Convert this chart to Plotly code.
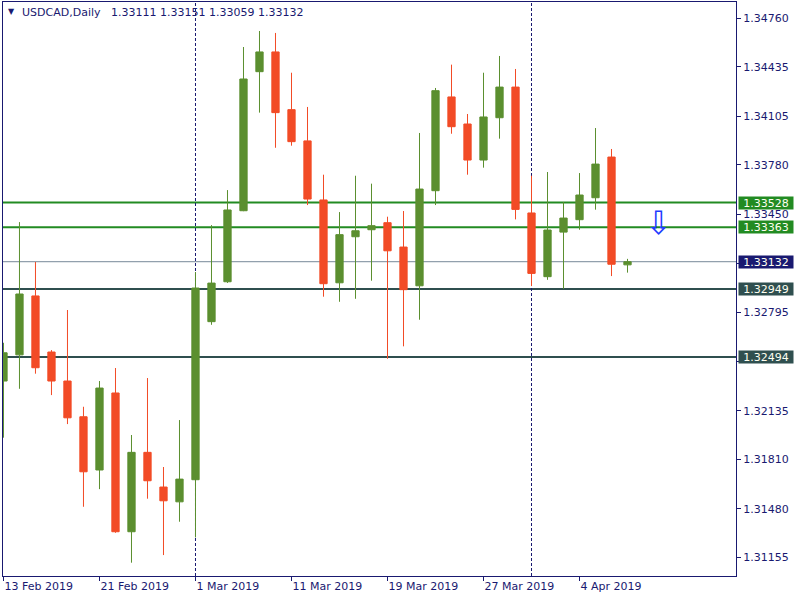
import plotly.graph_objects as go

# ---------------- data ----------------
dates = [
    "2019-02-13", "2019-02-14", "2019-02-15", "2019-02-18", "2019-02-19",
    "2019-02-20", "2019-02-21", "2019-02-22", "2019-02-25", "2019-02-26",
    "2019-02-27", "2019-02-28", "2019-03-01", "2019-03-04", "2019-03-05",
    "2019-03-06", "2019-03-07", "2019-03-08", "2019-03-11", "2019-03-12",
    "2019-03-13", "2019-03-14", "2019-03-15", "2019-03-18", "2019-03-19",
    "2019-03-20", "2019-03-21", "2019-03-22", "2019-03-25", "2019-03-26",
    "2019-03-27", "2019-03-28", "2019-03-29", "2019-04-01", "2019-04-02",
    "2019-04-03", "2019-04-04", "2019-04-05", "2019-04-08", "2019-04-09",
]
opens = [
    1.32334, 1.32509, 1.32903, 1.32528, 1.32334, 1.32095, 1.31739, 1.32254,
    1.31326, 1.31857, 1.31625, 1.31526, 1.31674, 1.32731, 1.32998, 1.33473,
    1.34403, 1.34535, 1.34149, 1.33940, 1.33545, 1.32991, 1.33299, 1.33346,
    1.33393, 1.33230, 1.32971, 1.33607, 1.34234, 1.34053, 1.33812, 1.34095,
    1.34300, 1.33458, 1.33032, 1.33330, 1.33413, 1.33560, 1.33832, 1.33111,
]
highs = [
    1.32590, 1.33397, 1.33130, 1.32541, 1.32809, 1.32162, 1.32334, 1.32421,
    1.31973, 1.32354, 1.31759, 1.32073, 1.33063, 1.33377, 1.33611, 1.34568,
    1.34675, 1.34662, 1.34396, 1.34167, 1.33714, 1.33464, 1.33707, 1.33654,
    1.33433, 1.33471, 1.33993, 1.34294, 1.34450, 1.34120, 1.34396, 1.34508,
    1.34421, 1.33707, 1.33732, 1.33531, 1.33725, 1.34026, 1.33886, 1.33151,
]
lows = [
    1.31955, 1.32282, 1.32383, 1.32240, 1.32046, 1.31493, 1.31611, 1.31319,
    1.31119, 1.31547, 1.31170, 1.31393, 1.31288, 1.32710, 1.32990, 1.33470,
    1.34129, 1.33894, 1.33908, 1.33511, 1.32898, 1.32864, 1.32884, 1.33005,
    1.32483, 1.32566, 1.32744, 1.33511, 1.33988, 1.33714, 1.33761, 1.33955,
    1.33415, 1.32969, 1.33011, 1.32951, 1.33346, 1.33480, 1.33036, 1.33059,
]
closes = [
    1.32523, 1.32916, 1.32423, 1.32334, 1.32088, 1.31727, 1.32287, 1.31326,
    1.31857, 1.31667, 1.31533, 1.31678, 1.32956, 1.32989, 1.33478, 1.34354,
    1.34535, 1.34129, 1.33935, 1.33551, 1.32985, 1.33313, 1.33339, 1.33373,
    1.33205, 1.32945, 1.33618, 1.34276, 1.34035, 1.33812, 1.34100, 1.34300,
    1.33482, 1.33054, 1.33344, 1.33424, 1.33578, 1.33785, 1.33115, 1.33132,
]

tick_dates = ["2019-02-13", "2019-02-21", "2019-03-01", "2019-03-11",
              "2019-03-19", "2019-03-27", "2019-04-04"]
tick_labels = ["13 Feb 2019", "21 Feb 2019", "1 Mar 2019", "11 Mar 2019",
               "19 Mar 2019", "27 Mar 2019", "4 Apr 2019"]
price_ticks = [1.34760, 1.34435, 1.34105, 1.33780, 1.33450, 1.33120,
               1.32795, 1.32465, 1.32135, 1.31810, 1.31480, 1.31155]
hidden_ticks = [1.33120, 1.32465]   # covered by level labels in the original

level_prices = [1.33528, 1.33363, 1.33132, 1.32949, 1.32494]
level_colors = ["#228B22", "#228B22", "#778899", "#2F4F4F", "#2F4F4F"]
level_label_bg = ["#228B22", "#228B22", "#191970", "#2F4F4F", "#2F4F4F"]
level_widths = [2, 2, 1, 2, 2]

separator_dates = ["2019-03-01", "2019-04-01"]
signal_pos = 40.95
signal_price = 1.33391

title_text = "USDCAD,Daily\u00a0\u00a0\u00a01.33111 1.33151 1.33059 1.33132"

NAVY = "#191970"
BULL = "#5B8F2F"
BEAR = "#F24B26"
FONT = "DejaVu Sans"

x_idx = list(range(len(dates)))

fig = go.Figure()
fig.add_trace(go.Candlestick(
    x=x_idx, open=opens, high=highs, low=lows, close=closes,
    increasing=dict(line=dict(color=BULL, width=1), fillcolor=BULL),
    decreasing=dict(line=dict(color=BEAR, width=1), fillcolor=BEAR),
    whiskerwidth=0, hoverinfo="skip", showlegend=False,
))

shapes = []
for p, c, w in zip(level_prices, level_colors, level_widths):
    shapes.append(dict(type="line", xref="paper", x0=0, x1=1, yref="y", y0=p, y1=p,
                       line=dict(color=c, width=w), layer="below"))
for d in separator_dates:
    xi = dates.index(d)
    shapes.append(dict(type="line", xref="x", x0=xi, x1=xi, yref="paper", y0=0, y1=1,
                       line=dict(color=NAVY, width=1, dash="3px,2px"), layer="below"))

annotations = []
for p, bg in zip(level_prices, level_label_bg):
    annotations.append(dict(
        xref="paper", x=1, xanchor="left", xshift=2, yref="y", y=p, yanchor="middle",
        text="%.5f" % p, showarrow=False, bgcolor=bg, borderpad=0,
        width=54, height=12, align="center", valign="middle",
        font=dict(family=FONT, size=11, color="#FFFFF0"),
    ))
annotations.append(dict(
    xref="x", x=signal_pos, yref="y", y=signal_price, text="\u21e9", showarrow=False,
    font=dict(family=FONT, size=32, color="#1E3CFF"),
))
annotations.append(dict(
    xref="paper", x=0, xanchor="left", xshift=3, yref="paper", y=1, yanchor="top", yshift=-3,
    text="\u25bc", showarrow=False, font=dict(family=FONT, size=8, color=NAVY),
))
annotations.append(dict(
    xref="paper", x=0, xanchor="left", xshift=17, yref="paper", y=1, yanchor="top", yshift=-2,
    text=title_text, showarrow=False, font=dict(family=FONT, size=11, color=NAVY),
))

fig.update_layout(
    width=800, height=600,
    margin=dict(l=3, r=64, t=2, b=24, autoexpand=False),
    paper_bgcolor="white", plot_bgcolor="white",
    showlegend=False, hovermode=False,
    boxgap=0.35,
    shapes=shapes, annotations=annotations,
    font=dict(family=FONT, size=11, color=NAVY),
    xaxis=dict(
        range=[-0.03, 45.78], rangeslider=dict(visible=False),
        tickmode="array", tickvals=[dates.index(d) for d in tick_dates], ticktext=tick_labels,
        ticks="outside", ticklen=4, tickcolor=NAVY, ticklabelposition="outside right",
        showgrid=False, zeroline=False, showline=True, mirror=True,
        linecolor=NAVY, linewidth=1,
        tickfont=dict(family=FONT, size=11, color=NAVY),
    ),
    yaxis=dict(
        range=[1.31030, 1.34869], side="right",
        tickmode="array", tickvals=price_ticks,
        ticktext=["" if v in hidden_ticks else "%.5f" % v for v in price_ticks],
        ticks="outside", ticklen=4, tickcolor=NAVY,
        showgrid=False, zeroline=False, showline=True, mirror=True,
        linecolor=NAVY, linewidth=1,
        tickfont=dict(family=FONT, size=11, color=NAVY),
    ),
)

fig.write_html("out.html", config={"displayModeBar": False},
               post_script="document.body.style.margin='0';")
